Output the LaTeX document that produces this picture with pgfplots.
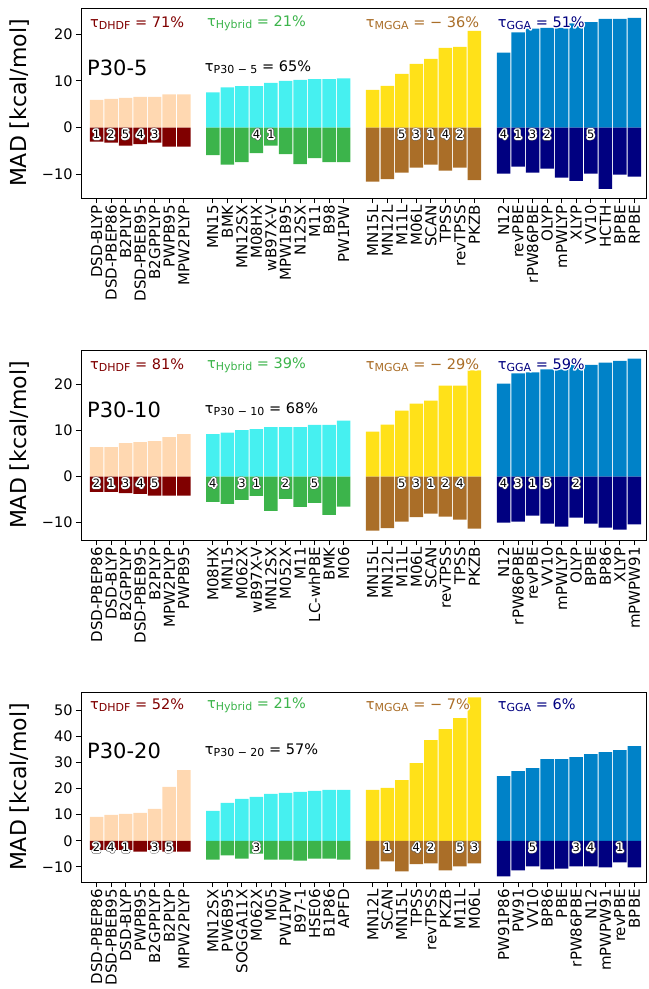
\documentclass[border=0pt]{standalone}
\usepackage{pgfplots}
\pgfplotsset{compat=1.18}
\usepackage{pgfplotstable}
\usepackage{fontspec}
\setmainfont{DejaVu Sans}

\definecolor{apricot}{RGB}{255,216,177}
\definecolor{maroonc}{RGB}{128,0,0}
\definecolor{cyanc}{RGB}{70,240,240}
\definecolor{greenc}{RGB}{60,180,75}
\definecolor{yellowc}{RGB}{255,225,25}
\definecolor{brownc}{RGB}{170,110,40}
\definecolor{bluec}{RGB}{0,130,200}
\definecolor{navyc}{RGB}{0,0,128}

% white outline (stroked copy) behind coloured text
\newcommand{\halo}[2]{%
  \leavevmode
  \rlap{\color{white}\special{pdf:literal direct 1 Tr 2.4 w 1 j 1 1 1 RG}#2\special{pdf:literal direct 0 Tr 0.4 w 0 j}}%
  {\color{#1}#2}}
\newcommand{\rankhalo}[1]{%
  \leavevmode
  \rlap{\color{white}\special{pdf:literal direct 1 Tr 4.2 w 1 j 0.35 0.35 0.35 RG}#1\special{pdf:literal direct 0 Tr 0.4 w 0 j}}%
  \rlap{\color{white}\special{pdf:literal direct 1 Tr 3.4 w 1 j 1 1 1 RG}#1\special{pdf:literal direct 0 Tr 0.4 w 0 j}}%
  {\color{black}#1}}
\newcommand{\tausize}{\fontsize{14.5bp}{16bp}\selectfont}
\newcommand{\sub}[1]{\raisebox{-2bp}{\fontsize{11bp}{11bp}\selectfont #1}}

% panel P30-5
\pgfplotstableread{
x p n
0 5.93 -3.0
1 6.14 -3.2
2 6.36 -3.86
3 6.57 -3.5
4 6.57 -3.2
5 7.14 -4.07
6 7.14 -4.07
8 7.57 -5.86
9 8.64 -7.93
10 8.86 -7.36
11 8.86 -5.43
12 9.57 -3.86
13 10.0 -5.64
14 10.2 -7.79
15 10.36 -6.5
16 10.36 -7.36
17 10.57 -7.36
19 8.07 -11.57
20 8.93 -11.0
21 11.5 -9.64
22 13.64 -8.57
23 14.71 -7.93
24 17.07 -9.21
25 17.29 -8.57
26 20.71 -11.21
28 16.07 -9.86
29 20.36 -8.36
30 21.2 -9.64
31 21.36 -8.79
32 21.36 -10.71
33 22.3 -11.36
34 22.6 -9.86
35 23.3 -13.07
36 23.3 -10.07
37 23.5 -10.5
}\tA
\pgfplotstableread{
x y r
0 0 1
1 0 2
2 0 5
3 0 4
4 0 3
11 0 4
12 0 1
21 0 5
22 0 3
23 0 1
24 0 4
25 0 2
28 0 4
29 0 1
30 0 3
31 0 2
34 0 5
}\rA

% panel P30-10
\pgfplotstableread{
x p n
0 6.38 -3.33
1 6.38 -3.33
2 7.25 -3.62
3 7.46 -3.77
4 7.68 -4.13
5 8.55 -4.13
6 9.2 -4.13
8 9.2 -5.5
9 9.49 -5.94
10 10.07 -5.07
11 10.29 -4.2
12 10.72 -7.46
13 10.72 -4.86
14 10.72 -6.6
15 11.16 -5.72
16 11.16 -8.33
17 12.1 -6.52
19 9.71 -11.74
20 11.23 -11.16
21 14.28 -9.78
22 15.8 -8.77
23 16.45 -8.04
24 19.71 -8.7
25 19.71 -9.35
26 22.97 -11.3
28 20.14 -10.0
29 22.32 -9.78
30 22.54 -8.48
31 23.19 -10.22
32 23.19 -10.87
33 24.2 -8.91
34 24.2 -10.22
35 24.64 -11.09
36 25.07 -11.52
37 25.51 -10.36
}\tB
\pgfplotstableread{
x y r
0 0 2
1 0 1
2 0 3
3 0 4
4 0 5
8 0 4
10 0 3
11 0 1
13 0 2
15 0 5
21 0 5
22 0 3
23 0 1
24 0 2
25 0 4
28 0 4
29 0 3
30 0 1
31 0 5
33 0 2
}\rB

% panel P30-20
\pgfplotstableread{
x p n
0 9.16 -3.44
1 9.92 -3.44
2 10.3 -3.44
3 10.69 -4.2
4 12.21 -3.44
5 20.61 -4.2
6 27.1 -4.2
8 11.45 -7.25
9 14.5 -5.6
10 16.03 -6.87
11 16.79 -4.96
12 17.94 -7.25
13 18.32 -7.25
14 18.7 -7.63
15 19.08 -6.87
16 19.47 -6.87
17 19.47 -7.25
19 19.47 -10.94
20 20.23 -7.89
21 23.28 -11.7
22 29.77 -8.9
23 38.55 -8.65
24 42.75 -11.32
25 46.95 -9.8
26 54.96 -8.65
28 24.81 -13.61
29 26.72 -11.32
30 27.86 -9.8
31 31.3 -10.94
32 31.3 -10.69
33 32.06 -9.8
34 33.21 -9.8
35 33.97 -10.18
36 34.73 -8.27
37 36.26 -10.18
}\tC
\pgfplotstableread{
x y r
0 0 2
1 0 4
2 0 1
4 0 3
5 0 5
11 0 3
20 0 1
22 0 4
23 0 2
25 0 5
26 0 3
30 0 5
33 0 3
34 0 4
36 0 1
}\rC

\pgfplotsset{
  mybar/.style={ybar, bar width=0.93, bar shift=0pt, draw=none, mark=none},
  panel/.style={
    scale only axis, width=565bp, height=190bp,
    anchor=north west,
    xmin=-1.07, xmax=37.8,
    axis line style={line width=0.9bp},
    every tick/.style={line width=0.9bp, black},
    tick align=outside, major tick length=5bp,
    tick pos=left,
    xtick={0,1,2,3,4,5,6,8,9,10,11,12,13,14,15,16,17,19,20,21,22,23,24,25,26,28,29,30,31,32,33,34,35,36,37},
    x tick label style={rotate=90, anchor=east, font=\fontsize{15bp}{15bp}\selectfont, inner sep=2bp},
    y tick label style={font=\fontsize{14.5bp}{15bp}\selectfont},
    ylabel={MAD [kcal/mol]},
    every axis y label/.style={at={(axis description cs:-0.108,0.5)}, rotate=90, anchor=center, font=\fontsize{22bp}{22bp}\selectfont},
    clip=false,
  },
  ranks/.style={only marks, mark=none, nodes near coords={\rankhalo{\pgfplotspointmeta}}, point meta=explicit symbolic,
    nodes near coords style={anchor=center, yshift=-6.5bp, inner sep=0pt, font=\fontsize{11.5bp}{11.5bp}\selectfont}},
}

\begin{document}
\begin{tikzpicture}
\useasboundingbox (0,0) rectangle (649bp,-989bp);

% ---------- P30-5 ----------
\begin{axis}[panel, at={(81bp,-8bp)}, ymin=-15.05, ymax=25.6,
  ytick={-10,0,10,20}, yticklabels={−10,0,10,20},
  xticklabels={DSD-BLYP,DSD-PBEP86,B2PLYP,DSD-PBEB95,B2GPPLYP,PWPB95,MPW2PLYP,MN15,BMK,MN12SX,M08HX,wB97X-V,MPW1B95,N12SX,M11,B98,PW1PW,MN15L,MN12L,M11L,M06L,SCAN,TPSS,revTPSS,PKZB,N12,revPBE,rPW86PBE,OLYP,mPWLYP,XLYP,VV10,HCTH,BPBE,RPBE}]
\addplot[mybar, fill=apricot, restrict x to domain=-1:7] table[x=x,y=p]{\tA};
\addplot[mybar, fill=maroonc, restrict x to domain=-1:7] table[x=x,y=n]{\tA};
\addplot[mybar, fill=cyanc, restrict x to domain=7.5:17.5] table[x=x,y=p]{\tA};
\addplot[mybar, fill=greenc, restrict x to domain=7.5:17.5] table[x=x,y=n]{\tA};
\addplot[mybar, fill=yellowc, restrict x to domain=18.5:26.5] table[x=x,y=p]{\tA};
\addplot[mybar, fill=brownc, restrict x to domain=18.5:26.5] table[x=x,y=n]{\tA};
\addplot[mybar, fill=bluec, restrict x to domain=27.5:38] table[x=x,y=p]{\tA};
\addplot[mybar, fill=navyc, restrict x to domain=27.5:38] table[x=x,y=n]{\tA};
\addplot[ranks] table[x=x,y=y,meta=r]{\rA};
\node[anchor=west, font=\tausize, inner sep=0pt, text=maroonc] at (rel axis cs:0.016,0.921) {τ\sub{DHDF} = 71\%};
\node[anchor=west, font=\tausize, inner sep=0pt, text=greenc] at (rel axis cs:0.223,0.921) {τ\sub{Hybrid} = 21\%};
\node[anchor=west, font=\tausize, inner sep=0pt] at (rel axis cs:0.504,0.921) {\halo{brownc}{τ\sub{MGGA} = − 36\%}};
\node[anchor=west, font=\tausize, inner sep=0pt] at (rel axis cs:0.7375,0.921) {\halo{navyc}{τ\sub{GGA} = 51\%}};
\node[anchor=west, font=\fontsize{21bp}{22bp}\selectfont, inner sep=0pt] at (rel axis cs:0.0106,0.684) {P30-5};
\node[anchor=west, font=\tausize, inner sep=0pt] at (rel axis cs:0.219,0.69) {τ\sub{P30 − 5} = 65\%};
\end{axis}

% ---------- P30-10 ----------
\begin{axis}[panel, at={(81bp,-350bp)}, ymin=-13.75, ymax=27.4,
  ytick={-10,0,10,20}, yticklabels={−10,0,10,20},
  xticklabels={DSD-PBEP86,DSD-BLYP,B2GPPLYP,DSD-PBEB95,B2PLYP,MPW2PLYP,PWPB95,M08HX,MN15,M062X,wB97X-V,MN12SX,M052X,M11,LC-whPBE,BMK,M06,MN15L,MN12L,M11L,M06L,SCAN,revTPSS,TPSS,PKZB,N12,rPW86PBE,revPBE,VV10,mPWLYP,OLYP,BPBE,BP86,XLYP,mPWPW91}]
\addplot[mybar, fill=apricot, restrict x to domain=-1:7] table[x=x,y=p]{\tB};
\addplot[mybar, fill=maroonc, restrict x to domain=-1:7] table[x=x,y=n]{\tB};
\addplot[mybar, fill=cyanc, restrict x to domain=7.5:17.5] table[x=x,y=p]{\tB};
\addplot[mybar, fill=greenc, restrict x to domain=7.5:17.5] table[x=x,y=n]{\tB};
\addplot[mybar, fill=yellowc, restrict x to domain=18.5:26.5] table[x=x,y=p]{\tB};
\addplot[mybar, fill=brownc, restrict x to domain=18.5:26.5] table[x=x,y=n]{\tB};
\addplot[mybar, fill=bluec, restrict x to domain=27.5:38] table[x=x,y=p]{\tB};
\addplot[mybar, fill=navyc, restrict x to domain=27.5:38] table[x=x,y=n]{\tB};
\addplot[ranks] table[x=x,y=y,meta=r]{\rB};
\node[anchor=west, font=\tausize, inner sep=0pt, text=maroonc] at (rel axis cs:0.016,0.921) {τ\sub{DHDF} = 81\%};
\node[anchor=west, font=\tausize, inner sep=0pt, text=greenc] at (rel axis cs:0.223,0.921) {τ\sub{Hybrid} = 39\%};
\node[anchor=west, font=\tausize, inner sep=0pt] at (rel axis cs:0.504,0.921) {\halo{brownc}{τ\sub{MGGA} = − 29\%}};
\node[anchor=west, font=\tausize, inner sep=0pt] at (rel axis cs:0.7375,0.921) {\halo{navyc}{τ\sub{GGA} = 59\%}};
\node[anchor=west, font=\fontsize{21bp}{22bp}\selectfont, inner sep=0pt] at (rel axis cs:0.0106,0.684) {P30-10};
\node[anchor=west, font=\tausize, inner sep=0pt] at (rel axis cs:0.219,0.69) {τ\sub{P30 − 10} = 68\%};
\end{axis}

% ---------- P30-20 ----------
\begin{axis}[panel, at={(81bp,-692bp)}, ymin=-15.8, ymax=57,
  ytick={-10,0,10,20,30,40,50}, yticklabels={−10,0,10,20,30,40,50},
  xticklabels={DSD-PBEP86,DSD-PBEB95,DSD-BLYP,PWPB95,B2GPPLYP,B2PLYP,MPW2PLYP,MN12SX,PW6B95,SOGGA11X,M062X,M05,PW1PW,B97-1,HSE06,B1P86,APFD,MN12L,SCAN,MN15L,TPSS,revTPSS,PKZB,M11L,M06L,PW91P86,PW91,VV10,BP86,PBE,rPW86PBE,N12,mPWPW91,revPBE,BPBE}]
\addplot[mybar, fill=apricot, restrict x to domain=-1:7] table[x=x,y=p]{\tC};
\addplot[mybar, fill=maroonc, restrict x to domain=-1:7] table[x=x,y=n]{\tC};
\addplot[mybar, fill=cyanc, restrict x to domain=7.5:17.5] table[x=x,y=p]{\tC};
\addplot[mybar, fill=greenc, restrict x to domain=7.5:17.5] table[x=x,y=n]{\tC};
\addplot[mybar, fill=yellowc, restrict x to domain=18.5:26.5] table[x=x,y=p]{\tC};
\addplot[mybar, fill=brownc, restrict x to domain=18.5:26.5] table[x=x,y=n]{\tC};
\addplot[mybar, fill=bluec, restrict x to domain=27.5:38] table[x=x,y=p]{\tC};
\addplot[mybar, fill=navyc, restrict x to domain=27.5:38] table[x=x,y=n]{\tC};
\addplot[ranks] table[x=x,y=y,meta=r]{\rC};
\node[anchor=west, font=\tausize, inner sep=0pt, text=maroonc] at (rel axis cs:0.016,0.93) {τ\sub{DHDF} = 52\%};
\node[anchor=west, font=\tausize, inner sep=0pt, text=greenc] at (rel axis cs:0.223,0.93) {τ\sub{Hybrid} = 21\%};
\node[anchor=west, font=\tausize, inner sep=0pt] at (rel axis cs:0.504,0.93) {\halo{brownc}{τ\sub{MGGA} = − 7\%}};
\node[anchor=west, font=\tausize, inner sep=0pt, text=navyc] at (rel axis cs:0.7375,0.93) {τ\sub{GGA} = 6\%};
\node[anchor=west, font=\fontsize{21bp}{22bp}\selectfont, inner sep=0pt] at (rel axis cs:0.0106,0.69) {P30-20};
\node[anchor=west, font=\tausize, inner sep=0pt] at (rel axis cs:0.219,0.695) {τ\sub{P30 − 20} = 57\%};
\end{axis}
\end{tikzpicture}
\end{document}
